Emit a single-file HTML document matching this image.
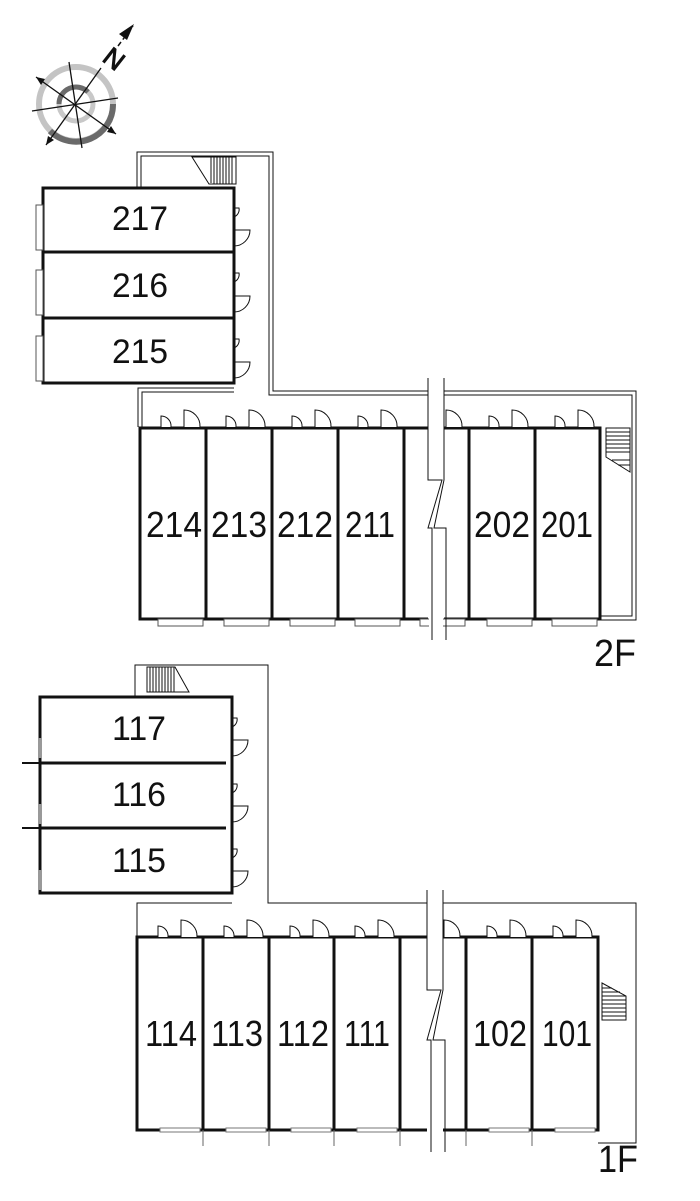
<!DOCTYPE html>
<html><head><meta charset="utf-8"><style>
html,body{margin:0;padding:0;background:#fff;}
svg{display:block}
text{font-family:"Liberation Sans",sans-serif;fill:#111;}
</style></head><body>
<svg width="700" height="1201" viewBox="0 0 700 1201" xmlns="http://www.w3.org/2000/svg">
<g>
<circle cx="76" cy="104" r="37" fill="none" stroke="#c4c4c4" stroke-width="6"/>
<path d="M113,104 A37,37 0 0 1 50,131" fill="none" stroke="#6a6a6a" stroke-width="6"/>
<circle cx="76" cy="104" r="17" fill="none" stroke="#c8c8c8" stroke-width="5"/>
<path d="M59,104 A17,17 0 0 1 88,92" fill="none" stroke="#6a6a6a" stroke-width="5"/>
<line x1="36" y1="77" x2="116" y2="134" stroke="#111" stroke-width="1.3"/>
<line x1="46" y1="145" x2="101" y2="68" stroke="#111" stroke-width="1.3"/>
<line x1="32" y1="111" x2="118" y2="98" stroke="#111" stroke-width="1.3"/>
<line x1="69" y1="62" x2="82" y2="148" stroke="#111" stroke-width="1.3"/>
<polygon points="36,77 45,79 41,85" fill="#111"/>
<polygon points="116,134 107,132 111,126" fill="#111"/>
<polygon points="46,145 48,136 54,140" fill="#111"/>
<line x1="118" y1="46" x2="133" y2="26" stroke="#111" stroke-width="1.5" stroke-dasharray="5,3"/>
<polygon points="134,24 127,40 119,34" fill="#111"/>
<text x="106" y="66" font-size="26" stroke="#111" stroke-width="1" transform="rotate(38 112 56)">N</text>
</g>

<g fill="none" stroke="#111" stroke-width="1">
<polyline points="137,188 137,152 273,152 273,391 428,391"/>
<polyline points="141,188 141,156 269,156 269,395 428,395"/>
<polyline points="444,391 636,391 636,620 600,620"/>
<polyline points="444,395 632,395 632,616 600,616"/>
<polyline points="234,388 138,388 138,427"/>
<polyline points="234,392 142,392 142,427"/>
</g>
<g stroke="#111" stroke-width="1">
<polygon points="192,157 236,157 236,184 209,184" fill="#fff"/>
<line x1="211" y1="157" x2="211" y2="183"/><line x1="214" y1="157" x2="214" y2="184"/><line x1="217" y1="157" x2="217" y2="184"/><line x1="220" y1="157" x2="220" y2="184"/><line x1="223" y1="157" x2="223" y2="184"/><line x1="226" y1="157" x2="226" y2="184"/><line x1="229" y1="157" x2="229" y2="184"/><line x1="232" y1="157" x2="232" y2="184"/>
</g>
<g fill="#fff" stroke="#111" stroke-width="3">
<rect x="43" y="188" width="191" height="195"/>
<line x1="43" y1="252" x2="234" y2="252"/>
<line x1="43" y1="318" x2="234" y2="318"/>
</g>
<g fill="#fff" stroke="#555" stroke-width="1">
<rect x="36" y="205" width="7" height="45"/><rect x="36" y="270" width="7" height="45"/><rect x="36" y="336" width="7" height="45"/>
</g>
<g fill="none" stroke="#111" stroke-width="1">
<path d="M234,208 h5 a8,8 0 0 1 -5,9"/><path d="M234,230 h16 a16,16 0 0 1 -16,16"/>
<path d="M234,273 h5 a8,8 0 0 1 -5,9"/><path d="M234,296 h16 a16,16 0 0 1 -16,16"/>
<path d="M234,339 h5 a8,8 0 0 1 -5,9"/><path d="M234,362 h16 a16,16 0 0 1 -16,16"/>
</g>
<g font-size="34" text-anchor="middle">
<text x="140" y="230" textLength="56" lengthAdjust="spacingAndGlyphs">217</text>
<text x="140" y="297" textLength="56" lengthAdjust="spacingAndGlyphs">216</text>
<text x="140" y="363" textLength="56" lengthAdjust="spacingAndGlyphs">215</text>
</g>

<g fill="none" stroke="#111" stroke-width="3">
<polyline points="428,428 140,428 140,619 428,619"/>
<polyline points="444,428 600,428 600,619 444,619"/>
<line x1="206" y1="428" x2="206" y2="619"/><line x1="272" y1="428" x2="272" y2="619"/>
<line x1="338" y1="428" x2="338" y2="619"/><line x1="404" y1="428" x2="404" y2="619"/>
<line x1="469" y1="428" x2="469" y2="619"/><line x1="535" y1="428" x2="535" y2="619"/>
</g>
<g fill="#fff" stroke="#111" stroke-width="1">
<path d="M161,427 v-11 a10,10 0 0 1 10,11"/><path d="M184,427 v-17 a16,16 0 0 1 16,17"/>
<path d="M226,427 v-11 a10,10 0 0 1 10,11"/><path d="M249,427 v-17 a16,16 0 0 1 16,17"/>
<path d="M292,427 v-11 a10,10 0 0 1 10,11"/><path d="M315,427 v-17 a16,16 0 0 1 16,17"/>
<path d="M358,427 v-11 a10,10 0 0 1 10,11"/><path d="M381,427 v-17 a16,16 0 0 1 16,17"/>
<path d="M446,427 v-17 a16,16 0 0 1 16,17"/>
<path d="M489,427 v-11 a10,10 0 0 1 10,11"/><path d="M512,427 v-17 a16,16 0 0 1 16,17"/>
<path d="M555,427 v-11 a10,10 0 0 1 10,11"/><path d="M578,427 v-17 a16,16 0 0 1 16,17"/>
</g>
<g fill="#fff" stroke="#555" stroke-width="1">
<rect x="158" y="619" width="45" height="7"/><rect x="224" y="619" width="45" height="7"/><rect x="290" y="619" width="45" height="7"/><rect x="355" y="619" width="45" height="7"/><rect x="420" y="619" width="45" height="7"/><rect x="487" y="619" width="45" height="7"/><rect x="552" y="619" width="45" height="7"/>
</g>
<g stroke="#111" stroke-width="1" fill="#fff">
<polygon points="606,428 630,428 630,472 606,457"/>
<line x1="606" y1="432" x2="630" y2="432"/><line x1="606" y1="436" x2="630" y2="436"/><line x1="606" y1="440" x2="630" y2="440"/><line x1="606" y1="444" x2="630" y2="444"/><line x1="606" y1="448" x2="630" y2="448"/><line x1="606" y1="452" x2="630" y2="452"/><line x1="612" y1="460" x2="630" y2="460"/><line x1="618" y1="465" x2="630" y2="465"/>
</g>
<rect x="429" y="378" width="14" height="262" fill="#fff"/>
<g fill="none" stroke="#111" stroke-width="1">
<polyline points="428,378 428,480 442,480 428,528 432,528 432,640"/>
<polyline points="444,378 444,480 434,528 446,528 446,640"/>
</g>
<g font-size="36" text-anchor="middle">
<text x="174" y="537" textLength="56" lengthAdjust="spacingAndGlyphs">214</text>
<text x="239" y="537" textLength="56" lengthAdjust="spacingAndGlyphs">213</text>
<text x="305" y="537" textLength="56" lengthAdjust="spacingAndGlyphs">212</text>
<text x="370" y="537" textLength="50" lengthAdjust="spacingAndGlyphs">211</text>
<text x="502" y="537" textLength="56" lengthAdjust="spacingAndGlyphs">202</text>
<text x="567" y="537" textLength="52" lengthAdjust="spacingAndGlyphs">201</text>
</g>
<text x="594" y="666" font-size="38" textLength="42" lengthAdjust="spacingAndGlyphs">2F</text>

<g fill="none" stroke="#111" stroke-width="1">
<polyline points="135,697 135,665 268,665 268,903 427,903"/>
<polyline points="443,903 636,903 636,1143 598,1143"/>
<polyline points="232,903 137,903 137,937"/>
</g>
<g stroke="#111" stroke-width="1" fill="#fff">
<polygon points="147,667 175,667 189,692 147,692"/>
<line x1="150" y1="667" x2="150" y2="692"/><line x1="153" y1="667" x2="153" y2="692"/><line x1="156" y1="667" x2="156" y2="692"/><line x1="159" y1="667" x2="159" y2="692"/><line x1="162" y1="667" x2="162" y2="692"/><line x1="165" y1="667" x2="165" y2="692"/><line x1="168" y1="667" x2="168" y2="692"/><line x1="171" y1="667" x2="171" y2="692"/><line x1="174" y1="667" x2="174" y2="692"/>
</g>
<g fill="#fff" stroke="#111" stroke-width="3">
<rect x="40" y="697" width="192" height="196"/>
<line x1="40" y1="763" x2="226" y2="763"/>
<line x1="40" y1="828" x2="226" y2="828"/>
</g>
<g stroke="#111" stroke-width="2"><line x1="22" y1="763" x2="40" y2="763"/><line x1="22" y1="828" x2="40" y2="828"/></g>
<g fill="#999" stroke="none">
<rect x="38" y="738" width="4" height="20"/><rect x="38" y="804" width="4" height="20"/><rect x="38" y="870" width="4" height="20"/>
</g>
<g fill="none" stroke="#111" stroke-width="1">
<path d="M232,718 h5 a8,8 0 0 1 -5,9"/><path d="M232,740 h16 a16,16 0 0 1 -16,16"/>
<path d="M232,784 h5 a8,8 0 0 1 -5,9"/><path d="M232,806 h16 a16,16 0 0 1 -16,16"/>
<path d="M232,849 h5 a8,8 0 0 1 -5,9"/><path d="M232,871 h16 a16,16 0 0 1 -16,16"/>
</g>
<g font-size="34" text-anchor="middle">
<text x="139" y="740" textLength="54" lengthAdjust="spacingAndGlyphs">117</text>
<text x="139" y="806" textLength="54" lengthAdjust="spacingAndGlyphs">116</text>
<text x="139" y="872" textLength="54" lengthAdjust="spacingAndGlyphs">115</text>
</g>

<g fill="none" stroke="#111" stroke-width="3">
<polyline points="427,937 137,937 137,1130 427,1130"/>
<polyline points="443,937 598,937 598,1130 443,1130"/>
<line x1="203" y1="937" x2="203" y2="1130"/><line x1="269" y1="937" x2="269" y2="1130"/>
<line x1="334" y1="937" x2="334" y2="1130"/><line x1="400" y1="937" x2="400" y2="1130"/>
<line x1="466" y1="937" x2="466" y2="1130"/><line x1="532" y1="937" x2="532" y2="1130"/>
</g>
<g stroke="#666" stroke-width="1">
<line x1="203" y1="1130" x2="203" y2="1146"/><line x1="269" y1="1130" x2="269" y2="1146"/><line x1="334" y1="1130" x2="334" y2="1146"/><line x1="400" y1="1130" x2="400" y2="1146"/><line x1="466" y1="1130" x2="466" y2="1146"/><line x1="532" y1="1130" x2="532" y2="1146"/>
</g>
<g fill="#fff" stroke="#111" stroke-width="1">
<path d="M158,937 v-11 a10,10 0 0 1 10,11"/><path d="M181,937 v-17 a16,16 0 0 1 16,17"/>
<path d="M224,937 v-11 a10,10 0 0 1 10,11"/><path d="M247,937 v-17 a16,16 0 0 1 16,17"/>
<path d="M290,937 v-11 a10,10 0 0 1 10,11"/><path d="M313,937 v-17 a16,16 0 0 1 16,17"/>
<path d="M355,937 v-11 a10,10 0 0 1 10,11"/><path d="M378,937 v-17 a16,16 0 0 1 16,17"/>
<path d="M444,937 v-17 a16,16 0 0 1 16,17"/>
<path d="M487,937 v-11 a10,10 0 0 1 10,11"/><path d="M510,937 v-17 a16,16 0 0 1 16,17"/>
<path d="M553,937 v-11 a10,10 0 0 1 10,11"/><path d="M576,937 v-17 a16,16 0 0 1 16,17"/>
</g>
<g fill="#fff" stroke="#777" stroke-width="1">
<rect x="160" y="1128" width="40" height="4"/><rect x="226" y="1128" width="40" height="4"/><rect x="291" y="1128" width="40" height="4"/><rect x="357" y="1128" width="40" height="4"/><rect x="489" y="1128" width="40" height="4"/><rect x="555" y="1128" width="40" height="4"/>
</g>
<g stroke="#111" stroke-width="1" fill="#fff">
<polygon points="602,983 626,996 626,1020 602,1020"/>
<line x1="602" y1="988" x2="612" y2="988"/><line x1="602" y1="992" x2="620" y2="992"/><line x1="602" y1="996" x2="626" y2="996"/><line x1="602" y1="1000" x2="626" y2="1000"/><line x1="602" y1="1004" x2="626" y2="1004"/><line x1="602" y1="1008" x2="626" y2="1008"/><line x1="602" y1="1012" x2="626" y2="1012"/><line x1="602" y1="1016" x2="626" y2="1016"/>
</g>
<rect x="428" y="890" width="14" height="262" fill="#fff"/>
<g fill="none" stroke="#111" stroke-width="1">
<polyline points="427,890 427,990 441,990 427,1040 431,1040 431,1152"/>
<polyline points="443,890 443,990 433,1040 445,1040 445,1152"/>
</g>
<g font-size="36" text-anchor="middle">
<text x="171" y="1046" textLength="52" lengthAdjust="spacingAndGlyphs">114</text>
<text x="237" y="1046" textLength="52" lengthAdjust="spacingAndGlyphs">113</text>
<text x="303" y="1046" textLength="52" lengthAdjust="spacingAndGlyphs">112</text>
<text x="367" y="1046" textLength="46" lengthAdjust="spacingAndGlyphs">111</text>
<text x="500" y="1046" textLength="54" lengthAdjust="spacingAndGlyphs">102</text>
<text x="567" y="1046" textLength="50" lengthAdjust="spacingAndGlyphs">101</text>
</g>
<text x="598" y="1172" font-size="38" textLength="40" lengthAdjust="spacingAndGlyphs">1F</text>
</svg>
</body></html>
